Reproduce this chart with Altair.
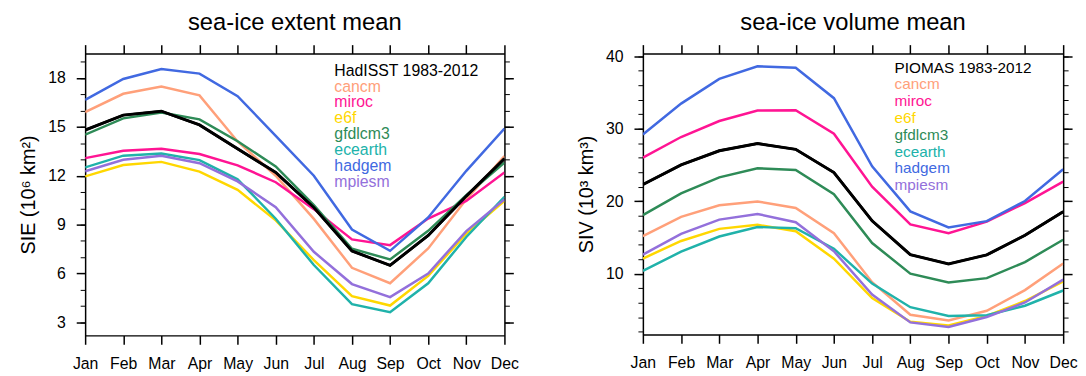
import altair as alt
import pandas as pd

FONT = "Liberation Sans"

months = ["Jan", "Feb", "Mar", "Apr", "May", "Jun", "Jul", "Aug", "Sep", "Oct", "Nov", "Dec"]
models = ["cancm", "miroc", "e6f", "gfdlcm3", "ecearth", "hadgem", "mpiesm"]
model_colors = ["#FFA07A", "#FF1493", "#FFD700", "#2E8B57", "#20B2AA", "#4169E1", "#9370DB"]
obs_color = "black"

# sea-ice extent (10^6 km^2)
sie_hadisst = [14.80, 15.72, 15.96, 15.12, 13.65, 12.20, 10.05, 7.38, 6.50, 8.33, 10.75, 13.05]
sie_cancm = [15.91, 17.03, 17.47, 16.93, 14.10, 12.00, 9.35, 6.35, 5.40, 7.54, 10.55, 13.20]
sie_miroc = [13.08, 13.53, 13.65, 13.33, 12.64, 11.60, 9.95, 8.09, 7.74, 9.37, 10.45, 12.20]
sie_e6f = [11.96, 12.66, 12.85, 12.25, 11.13, 9.26, 6.82, 4.61, 4.03, 5.85, 8.45, 10.45]
sie_gfdlcm3 = [14.52, 15.52, 15.88, 15.46, 14.12, 12.57, 10.20, 7.52, 6.86, 8.62, 10.80, 12.80]
sie_ecearth = [12.51, 13.23, 13.36, 12.96, 11.78, 9.36, 6.52, 4.12, 3.62, 5.40, 8.24, 10.70]
sie_hadgem = [16.66, 17.94, 18.55, 18.27, 16.88, 14.45, 12.00, 8.70, 7.39, 9.44, 12.30, 14.90]
sie_mpiesm = [12.27, 12.98, 13.23, 12.77, 11.65, 10.07, 7.33, 5.35, 4.55, 6.00, 8.60, 10.55]

# sea-ice volume (10^3 km^3)
siv_piomas = [22.30, 25.00, 26.95, 27.95, 27.15, 23.95, 17.30, 12.63, 11.37, 12.60, 15.30, 18.56]
siv_cancm = [15.18, 17.85, 19.45, 19.97, 19.07, 15.60, 8.85, 4.36, 3.58, 4.90, 7.75, 11.42]
siv_miroc = [26.00, 28.85, 31.05, 32.50, 32.55, 29.30, 22.00, 16.80, 15.58, 17.18, 19.75, 22.70]
siv_e6f = [12.10, 14.52, 16.19, 16.75, 15.87, 12.08, 6.65, 3.38, 2.88, 4.20, 6.25, 8.95]
siv_gfdlcm3 = [18.08, 21.07, 23.28, 24.55, 24.30, 20.97, 14.24, 10.02, 8.81, 9.40, 11.62, 14.69]
siv_ecearth = [10.41, 13.05, 15.14, 16.45, 16.29, 13.45, 8.65, 5.40, 4.20, 4.30, 5.60, 7.70]
siv_hadgem = [29.20, 33.45, 36.85, 38.60, 38.38, 34.20, 24.80, 18.60, 16.40, 17.25, 20.03, 24.40]
siv_mpiesm = [12.63, 15.50, 17.47, 18.25, 17.11, 13.10, 7.15, 3.30, 2.67, 4.04, 6.05, 9.20]

sie_models = [sie_cancm, sie_miroc, sie_e6f, sie_gfdlcm3, sie_ecearth, sie_hadgem, sie_mpiesm]
siv_models = [siv_cancm, siv_miroc, siv_e6f, siv_gfdlcm3, siv_ecearth, siv_hadgem, siv_mpiesm]


def panel(obs, model_series, obs_label, ytitle, ydomain, major, minor, title,
          width, height, legend_x, legend_y, legend_fs):
    names = [obs_label] + models
    colors = [obs_color] + model_colors
    label_fill = "{" + ",".join(f"'{n}':'{c}'" for n, c in zip(names, colors)) + "}[datum.value]"

    obs_df = pd.DataFrame({"month": months, "value": obs})
    rows = []
    for n, series in zip(names, [obs] + model_series):
        for mo, v in zip(months, series):
            rows.append({"series": n, "month": mo, "value": v})
    mdf = pd.DataFrame(rows)

    xs = alt.Scale(type="point", domain=months, padding=0)
    ys = alt.Scale(domain=ydomain, nice=False, zero=False)

    common_axis = dict(tickColor="black", domainColor="black", labelColor="black",
                       labelFont=FONT, labelFontSize=16, grid=False)

    model_layer = alt.Chart(mdf).mark_line(strokeWidth=2.5, clip=True).encode(
        x=alt.X("month:O", scale=xs, sort=months,
                axis=alt.Axis(orient="bottom", title=None, tickSize=9, tickWidth=1.5,
                              domainWidth=1.5, labelPadding=11, labelAngle=0, **common_axis)),
        y=alt.Y("value:Q", scale=ys,
                axis=alt.Axis(orient="left", values=major, title=ytitle, tickSize=9,
                              tickWidth=1.5, domainWidth=1.5, labelPadding=11,
                              titleFont=FONT, titleFontSize=20, titleFontWeight="normal",
                              titleColor="black", titlePadding=9, **common_axis)),
        color=alt.Color("series:N", sort=names, scale=alt.Scale(domain=names, range=colors),
                        legend=alt.Legend(
                            title=None, orient="none", legendX=legend_x, legendY=legend_y,
                            direction="vertical", padding=0,
                            labelFont=FONT, labelFontSize=legend_fs, labelOffset=0,
                            labelLimit=400, labelColor={"expr": label_fill},
                            symbolSize=0, symbolOpacity=0, symbolStrokeWidth=0,
                            rowPadding=0)),
    )

    obs_layer = alt.Chart(obs_df).mark_line(strokeWidth=3, color=obs_color, clip=True).encode(
        x=alt.X("month:O", scale=xs, sort=months,
                axis=alt.Axis(orient="top", title=None, labels=False, tickSize=9,
                              tickWidth=1.5, domainWidth=1.5, **common_axis)),
        y=alt.Y("value:Q", scale=ys,
                axis=alt.Axis(orient="right", values=major, title=None, labels=False,
                              tickSize=9, tickWidth=1.5, domainWidth=1.5, **common_axis)),
    )

    minor_left = alt.Chart(obs_df).mark_line(opacity=0).encode(
        x=alt.X("month:O", scale=xs, sort=months, axis=None),
        y=alt.Y("value:Q", scale=ys,
                axis=alt.Axis(orient="left", values=minor, title=None, labels=False,
                              domain=False, tickSize=5, tickWidth=1, **common_axis)),
    )
    minor_right = alt.Chart(obs_df).mark_line(opacity=0).encode(
        x=alt.X("month:O", scale=xs, sort=months, axis=None),
        y=alt.Y("value:Q", scale=ys,
                axis=alt.Axis(orient="right", values=minor, title=None, labels=False,
                              domain=False, tickSize=5, tickWidth=1, **common_axis)),
    )

    return alt.layer(model_layer, obs_layer, minor_left, minor_right).resolve_axis(
        x="independent", y="independent"
    ).properties(
        width=width, height=height,
        title=alt.TitleParams(text=title, font=FONT, fontSize=24, fontWeight="normal",
                              color="black", anchor="middle", frame="group",
                              baseline="alphabetic", offset=-10),
    )


left = panel(sie_hadisst, sie_models, "HadISST 1983-2012", "SIE (10⁶ km²)",
             [2.2, 19.5], [3, 6, 9, 12, 15, 18], list(range(3, 20)),
             "sea-ice extent mean", 424, 285, 236, 9.5, 16)
right = panel(siv_piomas, siv_models, "PIOMAS 1983-2012", "SIV (10³ km³)",
              [1.65, 40.35], [10, 20, 30, 40], list(range(2, 41, 2)),
              "sea-ice volume mean", 425, 284, 239, 6.5, 15.5)

chart = alt.hconcat(left, right, spacing=57).resolve_scale(
    color="independent"
).resolve_legend(color="independent").properties(
    padding={"left": 10, "right": 0, "top": 0, "bottom": 0},
    background="white",
).configure_view(stroke="transparent")

chart.save("out.html", embed_options={"renderer": "svg", "actions": False})
